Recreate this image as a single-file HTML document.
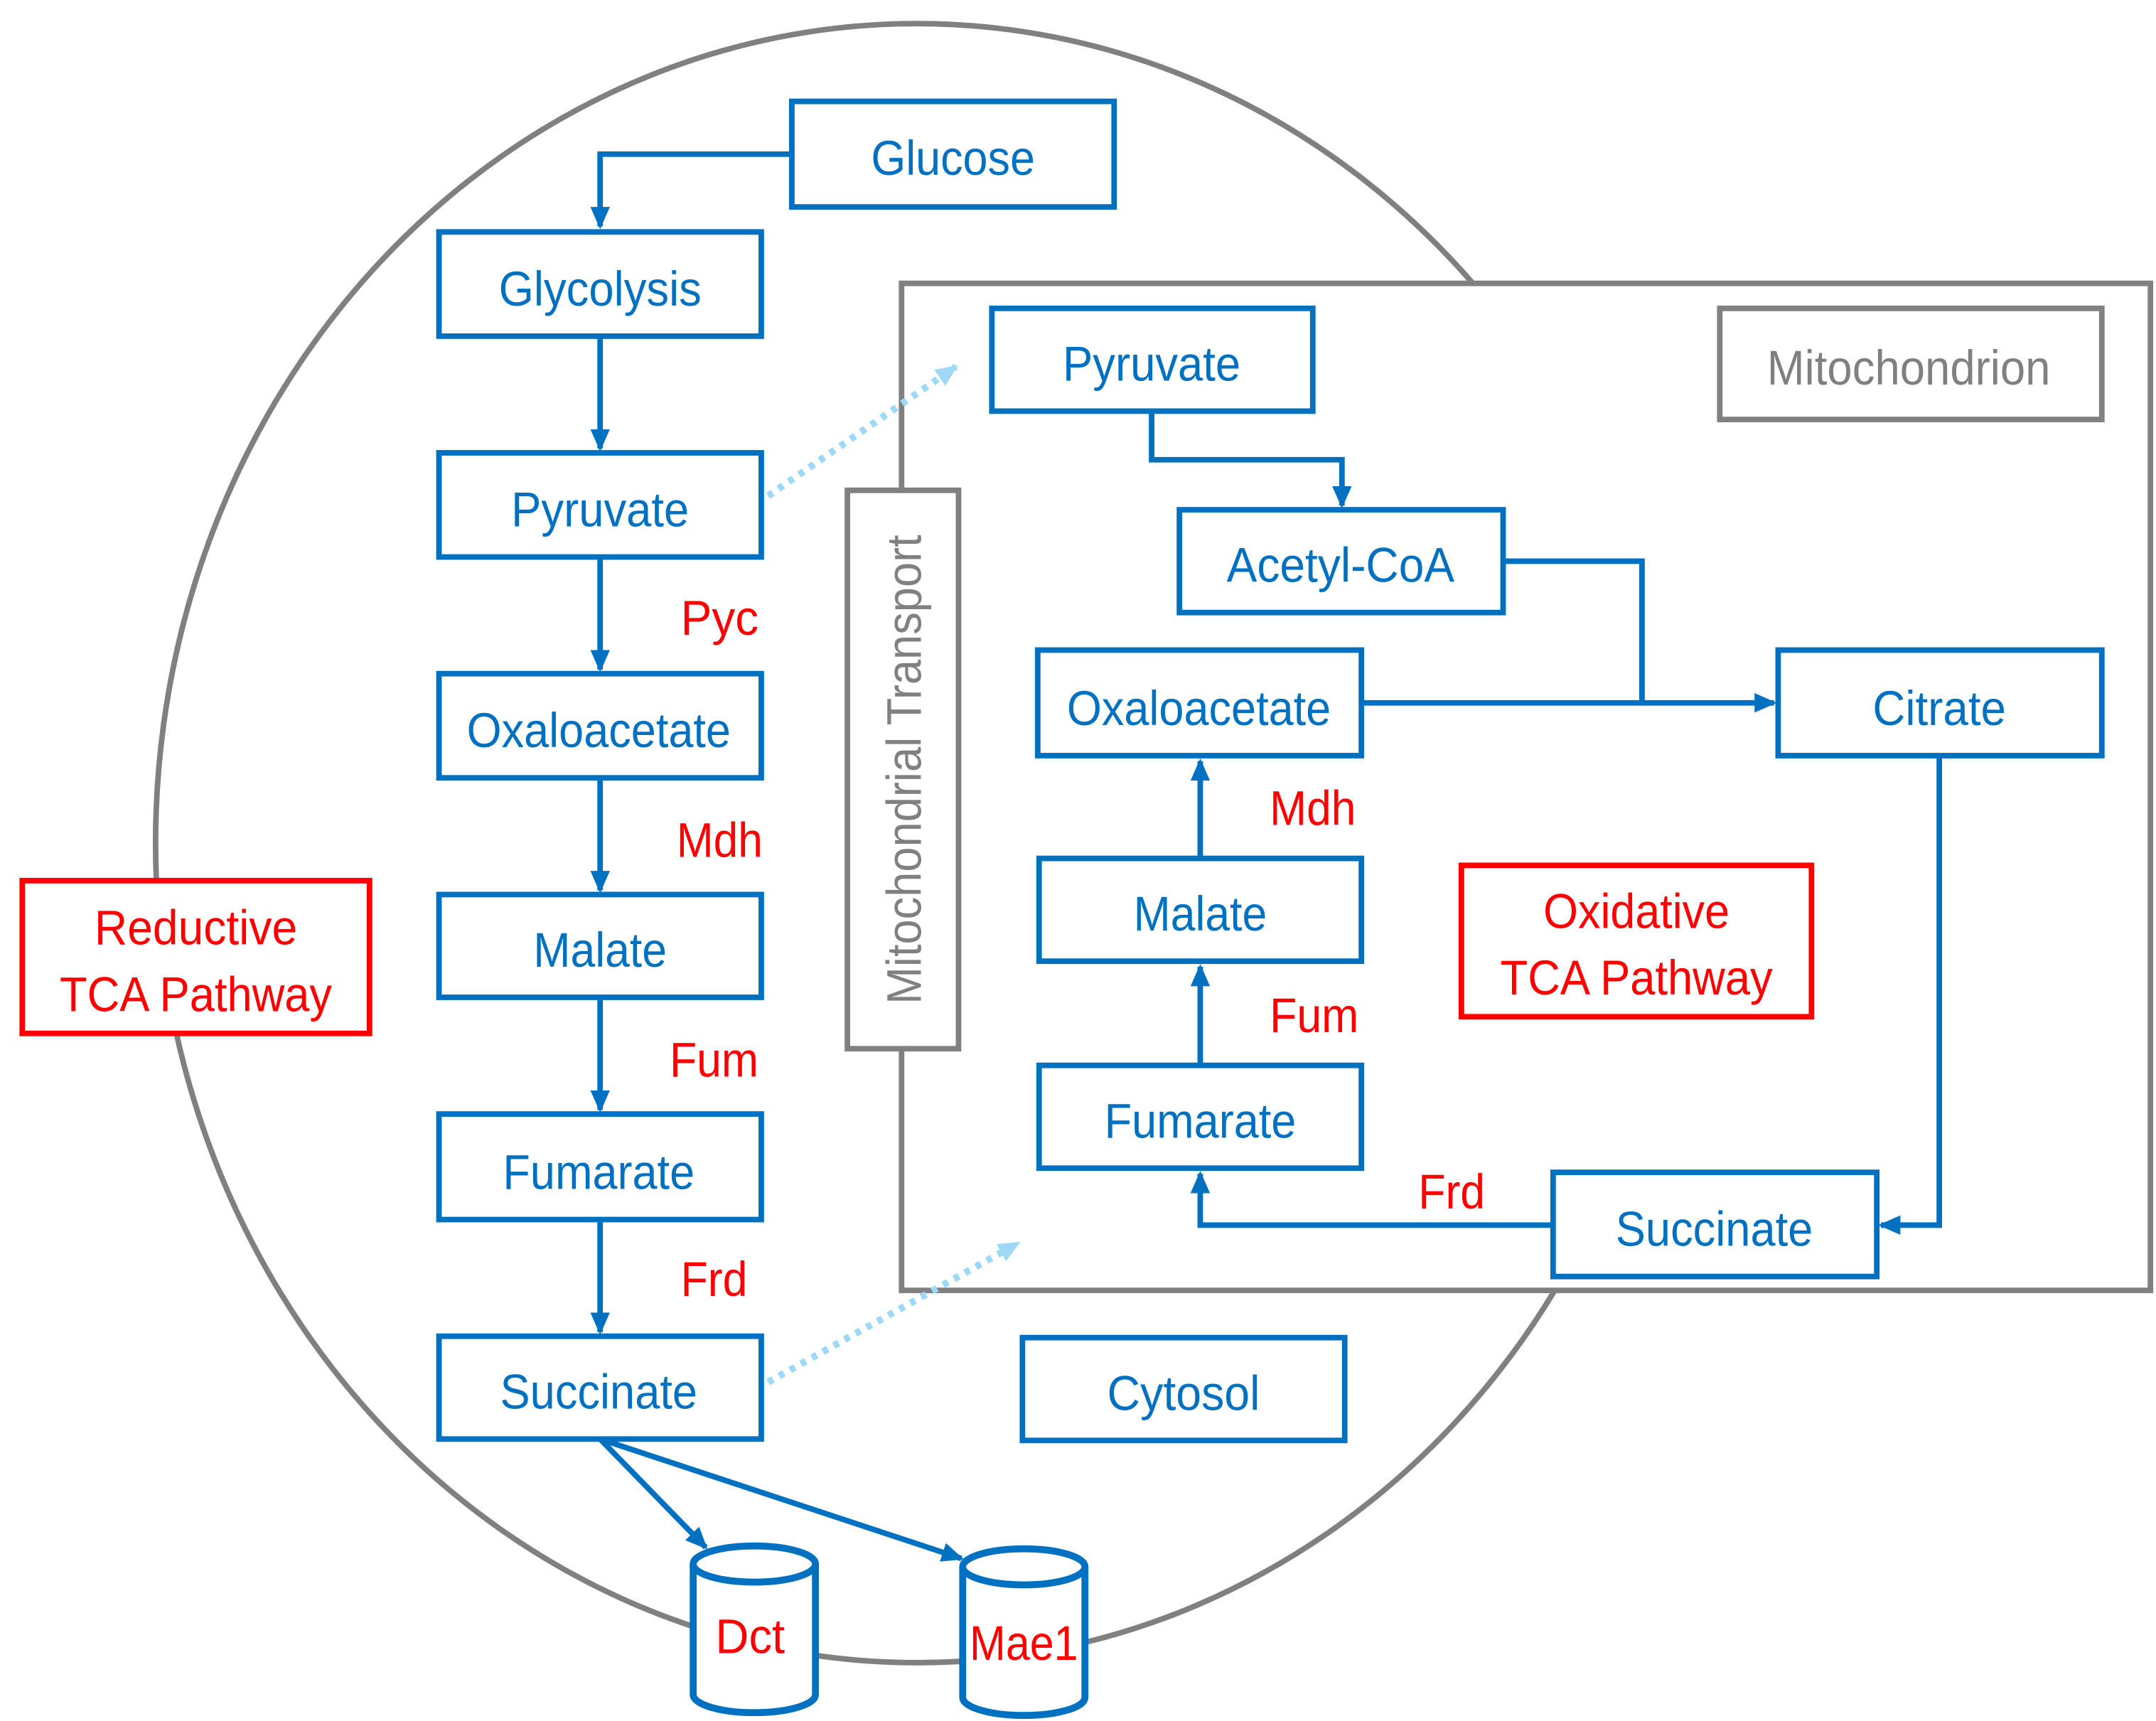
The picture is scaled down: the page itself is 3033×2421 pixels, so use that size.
<!DOCTYPE html>
<html><head><meta charset="utf-8"><style>
html,body{margin:0;padding:0;background:#fff}
svg{display:block}
text{font-family:"Liberation Sans Narrow","Liberation Sans",Arial,sans-serif;font-size:35px}
.b{fill:#0070C0}.r{fill:#FF0000}.g{fill:#808080}
</style></head><body>
<svg width="3033" height="2421" viewBox="0 0 1552 1239" preserveAspectRatio="none" xmlns="http://www.w3.org/2000/svg">
<defs>
<marker id="ab" markerWidth="16" markerHeight="16" refX="14" refY="8" orient="auto" markerUnits="userSpaceOnUse" viewBox="0 0 16 16"><path d="M0,1L16,8L0,15z" fill="#0070C0"/></marker>
<marker id="al" markerWidth="16" markerHeight="16" refX="14" refY="8" orient="auto" markerUnits="userSpaceOnUse" viewBox="0 0 16 16"><path d="M0,1L16,8L0,15z" fill="#9DD8F7"/></marker>
</defs>
<ellipse cx="660" cy="607" rx="548" ry="590" fill="none" stroke="#808080" stroke-width="4"/>
<rect x="649" y="204" width="899" height="725" fill="#fff" stroke="#808080" stroke-width="4"/>
<g fill="#fff" stroke="#0070C0" stroke-width="4">
<rect x="570" y="73" width="232" height="76"/>
<rect x="316" y="167" width="232" height="75"/>
<rect x="316" y="326" width="232" height="75"/>
<rect x="316" y="485" width="232" height="75"/>
<rect x="316" y="644" width="232" height="74"/>
<rect x="316" y="802" width="232" height="76"/>
<rect x="316" y="962" width="232" height="74"/>
<rect x="714" y="222" width="231" height="74"/>
<rect x="849" y="367" width="233" height="74"/>
<rect x="747" y="468" width="233" height="76"/>
<rect x="1280" y="468" width="233" height="76"/>
<rect x="748" y="618" width="232" height="74"/>
<rect x="748" y="767" width="232" height="74"/>
<rect x="1118" y="844" width="233" height="75"/>
<rect x="736" y="963" width="232" height="74"/>
</g>
<rect x="1238" y="222" width="275" height="80" fill="#fff" stroke="#808080" stroke-width="4"/>
<rect x="610" y="353" width="80" height="402" fill="#fff" stroke="#808080" stroke-width="4"/>
<rect x="16" y="634" width="250" height="110" fill="#fff" stroke="#FF0000" stroke-width="4"/>
<rect x="1052" y="623" width="252" height="109" fill="#fff" stroke="#FF0000" stroke-width="4"/>
<g fill="none" stroke="#0070C0" stroke-width="4">
<path d="M570,111H432V163" marker-end="url(#ab)"/>
<path d="M432,242V323" marker-end="url(#ab)"/>
<path d="M432,401V482" marker-end="url(#ab)"/>
<path d="M432,560V641" marker-end="url(#ab)"/>
<path d="M432,718V799" marker-end="url(#ab)"/>
<path d="M432,878V959" marker-end="url(#ab)"/>
<path d="M829,296V331H966V364" marker-end="url(#ab)"/>
<path d="M1082,404H1182V506"/>
<path d="M980,506H1277" marker-end="url(#ab)"/>
<path d="M864,618V548" marker-end="url(#ab)"/>
<path d="M864,767V696" marker-end="url(#ab)"/>
<path d="M1396,544V882H1354" marker-end="url(#ab)"/>
<path d="M1118,882H864V845" marker-end="url(#ab)"/>
<path d="M432,1036L508,1114" marker-end="url(#ab)"/>
<path d="M432,1036L692,1122" marker-end="url(#ab)"/>
</g>
<g fill="none" stroke="#9DD8F7" stroke-width="5" stroke-dasharray="4,5">
<path d="M553,357L688,264" marker-end="url(#al)"/>
<path d="M553,995L733,895" marker-end="url(#al)"/>
</g>
<g fill="#fff" stroke="#0070C0" stroke-width="5">
<path d="M499,1126V1220A44,13 0 0 0 587,1220V1126"/>
<ellipse cx="543" cy="1126" rx="44" ry="13"/>
<path d="M693,1128V1222A44,13 0 0 0 781,1222V1128"/>
<ellipse cx="737" cy="1128" rx="44" ry="13"/>
</g>
<g text-anchor="middle" lengthAdjust="spacingAndGlyphs">
<text class="b" x="686" y="126" textLength="118" lengthAdjust="spacingAndGlyphs">Glucose</text>
<text class="b" x="432" y="220" textLength="146" lengthAdjust="spacingAndGlyphs">Glycolysis</text>
<text class="b" x="432" y="379" textLength="128" lengthAdjust="spacingAndGlyphs">Pyruvate</text>
<text class="b" x="431" y="538" textLength="190" lengthAdjust="spacingAndGlyphs">Oxaloacetate</text>
<text class="b" x="432" y="696" textLength="96" lengthAdjust="spacingAndGlyphs">Malate</text>
<text class="b" x="431" y="856" textLength="138" lengthAdjust="spacingAndGlyphs">Fumarate</text>
<text class="b" x="431" y="1014" textLength="142" lengthAdjust="spacingAndGlyphs">Succinate</text>
<text class="b" x="829" y="274" textLength="128" lengthAdjust="spacingAndGlyphs">Pyruvate</text>
<text class="b" x="965" y="419" textLength="164" lengthAdjust="spacingAndGlyphs">Acetyl-CoA</text>
<text class="b" x="863" y="522" textLength="190" lengthAdjust="spacingAndGlyphs">Oxaloacetate</text>
<text class="b" x="1396" y="522" textLength="96" lengthAdjust="spacingAndGlyphs">Citrate</text>
<text class="b" x="864" y="670" textLength="96" lengthAdjust="spacingAndGlyphs">Malate</text>
<text class="b" x="864" y="819" textLength="138" lengthAdjust="spacingAndGlyphs">Fumarate</text>
<text class="b" x="1234" y="897" textLength="142" lengthAdjust="spacingAndGlyphs">Succinate</text>
<text class="b" x="852" y="1015" textLength="110" lengthAdjust="spacingAndGlyphs">Cytosol</text>
<text class="g" x="1374" y="277" textLength="204" lengthAdjust="spacingAndGlyphs">Mitochondrion</text>
<text class="g" x="0" y="0" transform="translate(663,554) rotate(-90)" textLength="338" lengthAdjust="spacingAndGlyphs">Mitochondrial Transport</text>
<text class="r" x="141" y="680" textLength="146" lengthAdjust="spacingAndGlyphs">Reductive</text>
<text class="r" x="141" y="728" textLength="196" lengthAdjust="spacingAndGlyphs">TCA Pathway</text>
<text class="r" x="1178" y="668" textLength="134" lengthAdjust="spacingAndGlyphs">Oxidative</text>
<text class="r" x="1178" y="716" textLength="196" lengthAdjust="spacingAndGlyphs">TCA Pathway</text>
<text class="r" x="540" y="1190" textLength="50" lengthAdjust="spacingAndGlyphs">Dct</text>
<text class="r" x="737" y="1195" textLength="78" lengthAdjust="spacingAndGlyphs">Mae1</text>
</g>
<text class="r" x="490" y="457" textLength="56" lengthAdjust="spacingAndGlyphs">Pyc</text>
<text class="r" x="487" y="617" textLength="62" lengthAdjust="spacingAndGlyphs">Mdh</text>
<text class="r" x="482" y="775" textLength="64" lengthAdjust="spacingAndGlyphs">Fum</text>
<text class="r" x="490" y="933" textLength="48" lengthAdjust="spacingAndGlyphs">Frd</text>
<text class="r" x="914" y="594" textLength="62" lengthAdjust="spacingAndGlyphs">Mdh</text>
<text class="r" x="914" y="743" textLength="64" lengthAdjust="spacingAndGlyphs">Fum</text>
<text class="r" x="1021" y="870" textLength="48" lengthAdjust="spacingAndGlyphs">Frd</text>
</svg>
</body></html>
